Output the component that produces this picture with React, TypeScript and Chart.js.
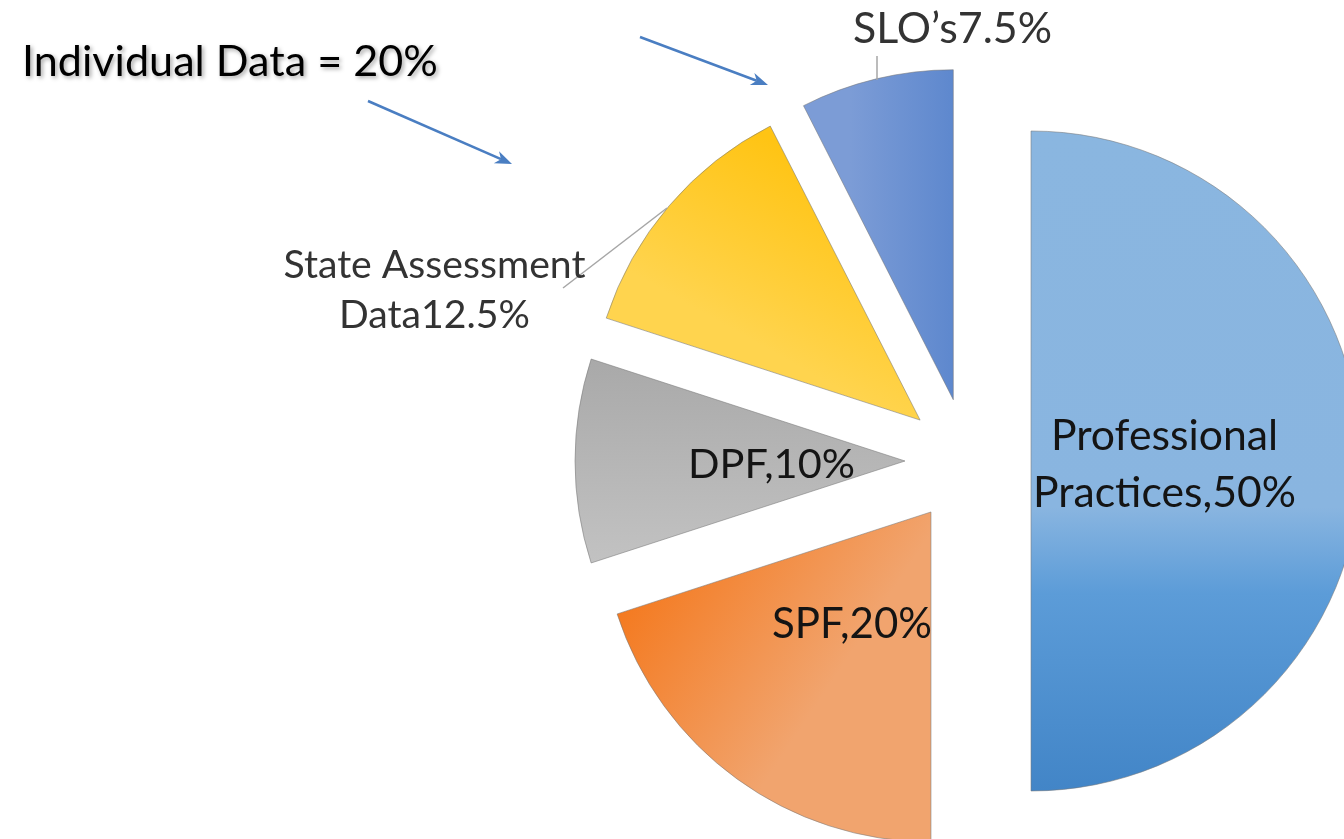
import React, { useEffect, useRef } from "react";
import { Chart, registerables } from "chart.js";

Chart.register(...registerables);

// ---------- data ----------
const categories = ["Professional Practices", "SPF", "DPF", "State Assessment Data", "SLO’s"];
const values = [50, 20, 10, 12.5, 7.5];
const valueSeparators = [",", ",", ",", "", ""];
const lineBreakAfterWord = [1, 0, 0, 2, 0]; // 0 = keep on one line
const individualIndices = [3, 4];
const individualTitle = "Individual Data";

// ---------- style / layout ----------
const W = 1344;
const H = 839;
const RADIUS = 330;
const EXPLODE = 63;
const FONT = "Lato, 'Open Sans', sans-serif";

type Grad = { from: [number, number]; to: [number, number]; stops: [number, string][] };
const FLAT = ["#8AB6E0", "#F29A5E", "#B8B8B8", "#FFCC33", "#7293D3"];
const GRADIENTS: Grad[] = [
  { from: [0, -330], to: [0, 330], stops: [[0, "#8AB6E0"], [0.57, "#89B5E0"], [0.7, "#5C9CD8"], [1, "#4285C7"]] },
  { from: [-348, 149], to: [-168, 269], stops: [[0, "#F47A20"], [1, "#F1A46E"]] },
  { from: [0, -101], to: [0, 101], stops: [[0, "#A9A9A9"], [1, "#C2C2C2"]] },
  { from: [-198, -321], to: [-288, -161], stops: [[0, "#FFC414"], [1, "#FFD44E"]] },
  { from: [-118, 0], to: [-15, 0], stops: [[0, "#7C9CD6"], [1, "#5E88CE"]] },
];

// label anchors (page px): center x, first baseline, line gap, which line to fit, its width, colour
const LABEL_LAYOUT = [
  { x: 1164.5, y: 450, gap: 57, fitLine: 1, fitWidth: 263, color: "#141414" },
  { x: 852, y: 638, gap: 0, fitLine: 0, fitWidth: 160, color: "#141414" },
  { x: 771.5, y: 478, gap: 0, fitLine: 0, fitWidth: 167, color: "#141414" },
  { x: 434.5, y: 278, gap: 50, fitLine: 0, fitWidth: 302, color: "#333333" },
  { x: 952.5, y: 43, gap: 0, fitLine: 0, fitWidth: 199, color: "#333333" },
];

const LEADERS: [number, number, number, number][] = [
  [563, 288, 667, 208],
  [877, 56, 877, 80],
];

const ARROWS: [number, number, number, number][] = [
  [368, 101, 512, 164],
  [640, 37, 768, 85],
];

const TITLE_LAYOUT = { x: 22, y: 76, width: 416 };

function labelLines(i: number): string[] {
  const valText = `${categories[i]}${valueSeparators[i]}${values[i]}%`;
  const k = lineBreakAfterWord[i];
  if (!k) return [valText];
  const words = categories[i].split(" ");
  return [words.slice(0, k).join(" "), `${words.slice(k).join(" ")}${valueSeparators[i]}${values[i]}%`];
}

function fitSize(ctx: CanvasRenderingContext2D, text: string, width: number): number {
  ctx.font = `100px ${FONT}`;
  const w = ctx.measureText(text).width;
  return (100 * width) / w;
}

function sliceFill(context: any) {
  const chart = context.chart;
  const area = chart.chartArea;
  const i = context.dataIndex;
  if (i === undefined || i === null) return FLAT[0];
  if (!area) return FLAT[i];
  const cx = (area.left + area.right) / 2;
  const cy = (area.top + area.bottom) / 2;
  const g = GRADIENTS[i];
  const grad = chart.ctx.createLinearGradient(cx + g.from[0], cy + g.from[1], cx + g.to[0], cy + g.to[1]);
  g.stops.forEach(([o, c]) => grad.addColorStop(o, c));
  return grad;
}

const explodePlugin = {
  id: "explode",
  afterDatasetsUpdate(chart: any) {
    const meta = chart.getDatasetMeta(0);
    meta.data.forEach((arc: any) => {
      const mid = (arc.startAngle + arc.endAngle) / 2;
      arc.x += Math.cos(mid) * EXPLODE;
      arc.y += Math.sin(mid) * EXPLODE;
    });
  },
};

function drawArrow(ctx: CanvasRenderingContext2D, x1: number, y1: number, x2: number, y2: number) {
  const ang = Math.atan2(y2 - y1, x2 - x1);
  const len = 17;
  const half = 6.5;
  const notch = 5;
  const bx = x2 - Math.cos(ang) * len;
  const by = y2 - Math.sin(ang) * len;
  ctx.strokeStyle = "#4A7EC2";
  ctx.fillStyle = "#4A7EC2";
  ctx.lineWidth = 2.5;
  ctx.beginPath();
  ctx.moveTo(x1, y1);
  ctx.lineTo(bx + Math.cos(ang) * notch, by + Math.sin(ang) * notch);
  ctx.stroke();
  ctx.beginPath();
  ctx.moveTo(x2, y2);
  ctx.lineTo(bx - Math.sin(ang) * half, by + Math.cos(ang) * half);
  ctx.lineTo(bx + Math.cos(ang) * notch, by + Math.sin(ang) * notch);
  ctx.lineTo(bx + Math.sin(ang) * half, by - Math.cos(ang) * half);
  ctx.closePath();
  ctx.fill();
}

const annotationPlugin = {
  id: "annotations",
  afterDraw(chart: any) {
    const ctx: CanvasRenderingContext2D = chart.ctx;
    ctx.save();

    // leader lines
    ctx.strokeStyle = "#A6A6A6";
    ctx.lineWidth = 1.5;
    LEADERS.forEach(([a, b, c, d]) => {
      ctx.beginPath();
      ctx.moveTo(a, b);
      ctx.lineTo(c, d);
      ctx.stroke();
    });

    // slice labels
    ctx.textAlign = "center";
    ctx.textBaseline = "alphabetic";
    categories.forEach((_, i) => {
      const lines = labelLines(i);
      const L = LABEL_LAYOUT[i];
      const size = fitSize(ctx, lines[L.fitLine], L.fitWidth);
      ctx.font = `${size}px ${FONT}`;
      ctx.fillStyle = L.color;
      lines.forEach((ln, k) => ctx.fillText(ln, L.x, L.y + k * L.gap));
    });

    // arrows
    ARROWS.forEach(([a, b, c, d]) => drawArrow(ctx, a, b, c, d));

    // individual data title
    const individual = individualIndices.reduce((s, i) => s + values[i], 0);
    const title = `${individualTitle} = ${individual}%`;
    const tSize = fitSize(ctx, title, TITLE_LAYOUT.width);
    ctx.font = `${tSize}px ${FONT}`;
    ctx.textAlign = "left";
    ctx.fillStyle = "#000000";
    ctx.shadowColor = "rgba(0,0,0,0.35)";
    ctx.shadowBlur = 4;
    ctx.shadowOffsetX = 2;
    ctx.shadowOffsetY = 2;
    ctx.fillText(title, TITLE_LAYOUT.x, TITLE_LAYOUT.y);

    ctx.restore();
  },
};

export default function App() {
  const canvasRef = useRef<HTMLCanvasElement | null>(null);

  useEffect(() => {
    const canvas = canvasRef.current;
    if (!canvas) return;
    const chart = new Chart(canvas, {
      type: "pie",
      data: {
        labels: categories,
        datasets: [
          {
            data: values,
            backgroundColor: sliceFill as any,
            borderWidth: 1,
            borderColor: "rgba(120,120,120,0.55)",
          },
        ],
      },
      options: {
        responsive: false,
        animation: false,
        devicePixelRatio: 1,
        radius: RADIUS,
        events: [],
        layout: { padding: { left: 592, top: 83, right: 0, bottom: 0 } },
        plugins: {
          legend: { display: false },
          tooltip: { enabled: false },
          title: { display: false },
        },
      } as any,
      plugins: [explodePlugin, annotationPlugin],
    });
    return () => chart.destroy();
  }, []);

  return (
    <div style={{ position: "absolute", left: 0, top: 0, width: W, height: H, overflow: "hidden", background: "#ffffff" }}>
      <canvas ref={canvasRef} width={W} height={H} style={{ display: "block", width: W, height: H }} />
    </div>
  );
}
